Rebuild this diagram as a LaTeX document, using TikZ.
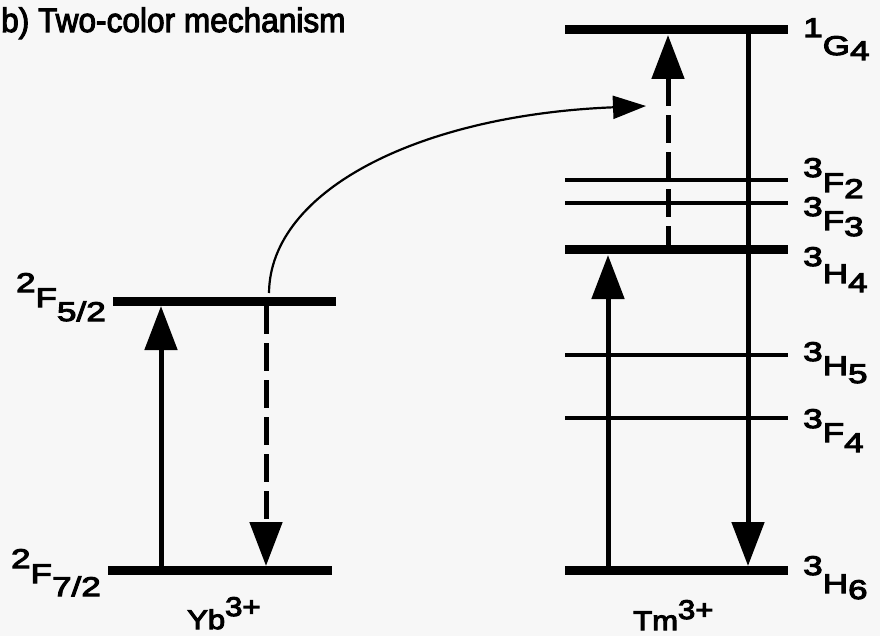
\documentclass[tikz,border=0pt]{standalone}
\usepackage{fontspec}
\setmainfont{Liberation Sans}
\newfontfamily\lblfont[FakeStretch=1.3,FakeBold=4]{Liberation Sans}
\newfontfamily\ionfont[FakeStretch=1.15,FakeBold=4]{Liberation Sans}
\newfontfamily\titlefont[FakeStretch=0.93,FakeBold=3]{Liberation Sans}
\usetikzlibrary{arrows.meta}
\definecolor{bgc}{HTML}{F7F7F7}
\newcommand\lvlname[5]{\raisebox{#4pt}{#1}#2\raisebox{-#5pt}{#3}}
\newcommand\ionname[3]{#1\raisebox{#3pt}{#2}}
\begin{document}
\begin{tikzpicture}[x=1pt,y=-1pt,
  thicklvl/.style={line width=9pt},
  thinlvl/.style={line width=3.5pt},
  lbl/.style={inner sep=0pt, font=\lblfont\fontsize{27}{30}\selectfont},
  ionlbl/.style={inner sep=0pt, font=\ionfont\fontsize{27}{30}\selectfont},
  solidarr/.style={line width=5pt,-{Triangle[length=44pt,width=32pt]}},
  dasharr/.style={solidarr, dash pattern=on 28pt off 9pt},
  transfer/.style={line width=2.2pt,-{Triangle[length=33pt,width=23pt]}}]
\fill[bgc] (0,0) rectangle (880,636);
\useasboundingbox (0,0) rectangle (880,636);

% title
\node[inner sep=0pt, anchor=base west, font=\titlefont\fontsize{34}{36}\selectfont] (title) at (1,32) {b) Two-color mechanism};

% Yb levels
\coordinate (ybF52a) at (113,301); \coordinate (ybF52b) at (336,301);
\coordinate (ybF72a) at (108,570); \coordinate (ybF72b) at (332,570);
\draw[thicklvl] (ybF52a) -- (ybF52b);
\draw[thicklvl] (ybF72a) -- (ybF72b);

% Tm levels
\coordinate (tmG4a) at (565,30);  \coordinate (tmG4b) at (788,30);
\coordinate (tmF2a) at (565,180); \coordinate (tmF2b) at (788,180);
\coordinate (tmF3a) at (565,203); \coordinate (tmF3b) at (788,203);
\coordinate (tmH4a) at (565,250); \coordinate (tmH4b) at (788,250);
\coordinate (tmH5a) at (565,355); \coordinate (tmH5b) at (788,355);
\coordinate (tmF4a) at (565,418); \coordinate (tmF4b) at (788,418);
\coordinate (tmH6a) at (565,570); \coordinate (tmH6b) at (788,570);
\draw[thicklvl] (tmG4a) -- (tmG4b);
\draw[thinlvl] (tmF2a) -- (tmF2b);
\draw[thinlvl] (tmF3a) -- (tmF3b);
\draw[thicklvl] (tmH4a) -- (tmH4b);
\draw[thinlvl] (tmH5a) -- (tmH5b);
\draw[thinlvl] (tmF4a) -- (tmF4b);
\draw[thicklvl] (tmH6a) -- (tmH6b);

% arrow endpoints
\coordinate (ybupS) at (161,574);  \coordinate (ybupE) at (161,306);
\coordinate (ybdnS) at (266,306);  \coordinate (ybdnE) at (266,566);
\coordinate (trS) at (269,293);    \coordinate (trE) at (646,106);
\coordinate (tmupS) at (608,574);  \coordinate (tmupE) at (608,255);
\coordinate (tmdaS) at (668,254);  \coordinate (tmdaE) at (668,35);
\coordinate (tmdnS) at (748,26);   \coordinate (tmdnE) at (748,566);

\draw[solidarr] (ybupS) -- (ybupE);
\draw[dasharr] (ybdnS) -- (ybdnE);
\draw[transfer] (trS) .. controls (270,190) and (420,115) .. (trE);
\draw[solidarr] (tmupS) -- (tmupE);
\draw[dasharr] (tmdaS) -- (tmdaE);
\draw[solidarr] (tmdnS) -- (tmdnE);

% level labels
\node[lbl, anchor=base east] (lF52) at (106,307) {\lvlname{2}{F}{5/2}{15}{14}};
\node[lbl, anchor=base east] (lF72) at (101,583) {\lvlname{2}{F}{7/2}{15}{13}};
\node[lbl, anchor=base west] (lG4) at (803,55)  {\lvlname{1}{G}{4}{18}{5}};
\node[lbl, anchor=base west] (lF2) at (803,192) {\lvlname{3}{F}{2}{15}{6}};
\node[lbl, anchor=base west] (lF3) at (803,230) {\lvlname{3}{F}{3}{14}{6}};
\node[lbl, anchor=base west] (lH4) at (803,283) {\lvlname{3}{H}{4}{17}{9}};
\node[lbl, anchor=base west] (lH5) at (803,375) {\lvlname{3}{H}{5}{14}{8}};
\node[lbl, anchor=base west] (lF4) at (803,442) {\lvlname{3}{F}{4}{14}{10}};
\node[lbl, anchor=base west] (lH6) at (803,593) {\lvlname{3}{H}{6}{18}{6}};

% ion labels
\node[ionlbl, anchor=base west] (yb) at (187,629) {\ionname{Yb}{3+}{13}};
\node[ionlbl, anchor=base west] (tm) at (633,630) {\ionname{Tm}{3+}{11}};
\end{tikzpicture}
\end{document}
